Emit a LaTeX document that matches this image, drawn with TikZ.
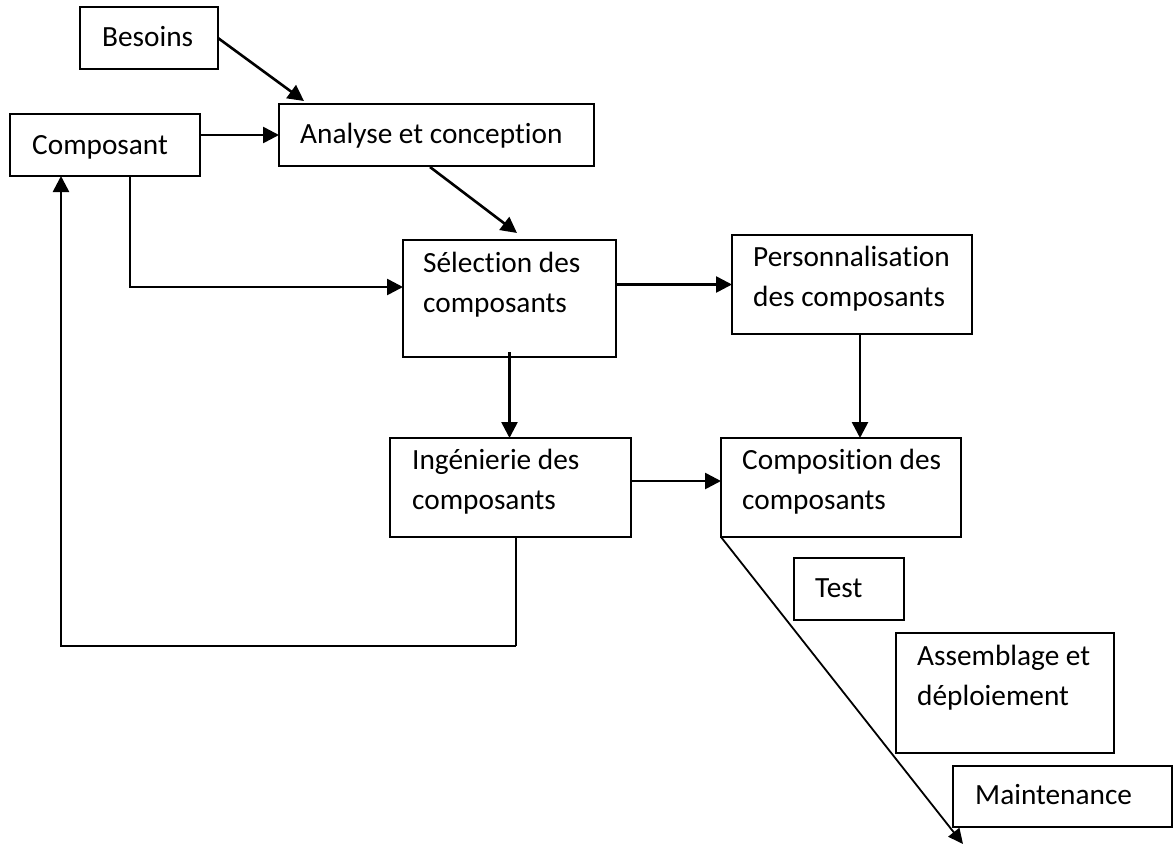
\documentclass[tikz,border=0pt]{standalone}
\usepackage{fontspec}
\setmainfont{Carlito}[Ligatures=NoCommon]
\usetikzlibrary{arrows.meta,calc}
\begin{document}
\begin{tikzpicture}[x=1pt,y=-1pt,
  box/.style 2 args={draw, line width=2.1pt, inner sep=0pt, outer sep=0pt,
    anchor=north west, minimum width=#1pt, minimum height=#2pt},
  txt/.style={anchor=north west, inner sep=0pt, align=left,
    font=\fontsize{29.3}{40}\selectfont, execute at begin node=\strut},
  arrow/.style={line width=2.6pt, -{Triangle[length=16pt,width=16pt]}},
  thinarrow/.style={line width=1.8pt, -{Triangle[length=15pt,width=14pt]}},
  link/.style={line width=1.6pt}]
\useasboundingbox (0,0) rectangle (1174,847);

% boxes
\node[box={138}{62}]  (bes)   at (80,7)    {};
\node[box={190}{62}]  (comp)  at (10,114)  {};
\node[box={315}{62}]  (ana)   at (279,104) {};
\node[box={213}{117}] (sel)   at (403,240) {};
\node[box={240}{99}]  (pers)  at (732,235) {};
\node[box={241}{99}]  (ing)   at (390,438) {};
\node[box={240}{99}]  (compo) at (721,438) {};
\node[box={110}{62}]  (test)  at (794,558) {};
\node[box={218}{120}] (ass)   at (896,633) {};
\node[box={219}{61}]  (maint) at (953,766) {};

% labels, top-left aligned inside each box
\node[txt] (bes-t)   at ($(bes.north west)+(22,11)$)   {Besoins};
\node[txt] (comp-t)  at ($(comp.north west)+(22,12)$)  {Composant};
\node[txt] (ana-t)   at ($(ana.north west)+(21,11)$)   {Analyse et conception};
\node[txt] (sel-t)   at ($(sel.north west)+(20,12)$)   {Sélection des\\composants};
\node[txt] (pers-t)  at ($(pers.north west)+(21,11)$)  {Personnalisation\\des composants};
\node[txt] (ing-t)   at ($(ing.north west)+(22,11)$)   {Ingénierie des\\composants};
\node[txt] (compo-t) at ($(compo.north west)+(21,11)$) {Composition des\\composants};
\node[txt] (test-t)  at ($(test.north west)+(21,11)$)  {Test};
\node[txt] (ass-t)   at ($(ass.north west)+(21,12)$)   {Assemblage et\\déploiement};
\node[txt] (maint-t) at ($(maint.north west)+(22,10)$) {Maintenance};

% connector end points
\coordinate (besEnd) at ($(ana.north west)+(25,-3)$);
\coordinate (anaOut) at ($(ana.south west)+(151,1)$);
\coordinate (selIn)  at ($(sel.north west)+(114,-7)$);
\coordinate (compDn) at ($(comp.south west)+(120,0)$);
\coordinate (selW)   at ($(sel.north west)+(0,47)$);
\coordinate (selDn)  at ($(sel.south)+(0,-5)$);
\coordinate (persDn) at ($(pers.south west)+(128,0)$);
\coordinate (ingR)   at ($(ing.north east)+(0,43)$);
\coordinate (ingDn)  at ($(ing.south west)+(126,0)$);
\coordinate (loopB)  at ($(ingDn)+(0,109)$);
\coordinate (compUp) at ($(comp.south west)+(51,0)$);
\coordinate (phases) at ($(compo.south west)+(242,307)$);

% connectors
\draw[arrow] (bes.east) -- (besEnd);
\draw[arrow] (comp.east |- ana.west) -- (ana.west);
\draw[arrow] (anaOut) -- (selIn);
\draw[arrow] (compDn) |- (selW);
\draw[arrow] (sel.east |- pers.west) -- (pers.west);
\draw[arrow] (selDn) -- (selDn |- ing.north);
\draw[arrow] (persDn) -- (persDn |- compo.north);
\draw[arrow] (ingR) -- (ingR -| compo.west);
\draw[link] (ingDn) -- (loopB);
\draw[arrow] (loopB) -| (compUp);
\draw[thinarrow] (compo.south west) -- (phases);
\end{tikzpicture}
\end{document}
